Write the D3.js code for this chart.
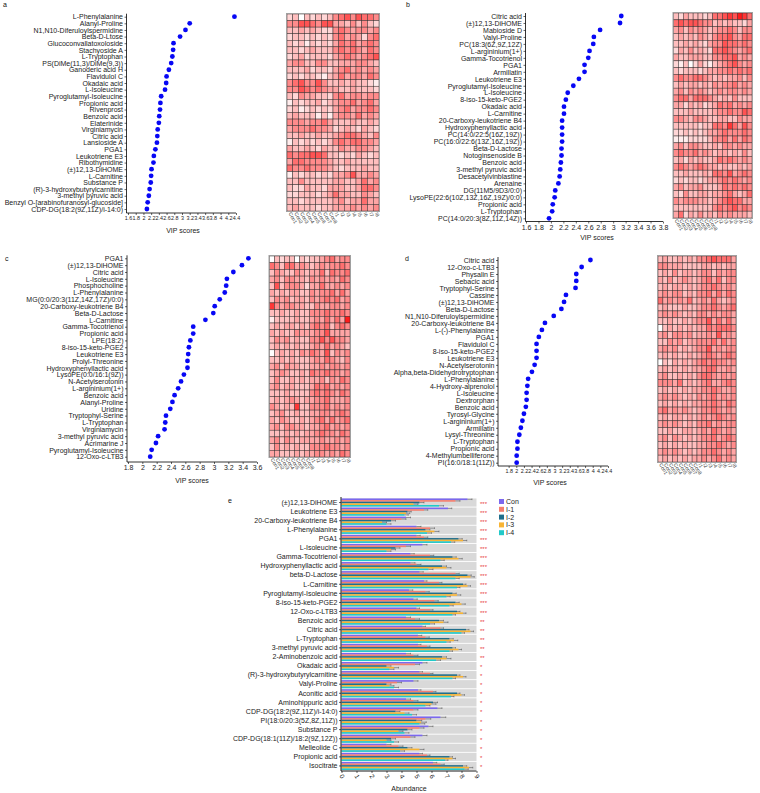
<!DOCTYPE html>
<html><head><meta charset="utf-8">
<script src="https://cdn.jsdelivr.net/npm/d3@7"></script>
<style>body{margin:0;background:#fff}svg{display:block}</style>
</head><body><svg id="chart" width="760" height="793"></svg>
<script>
// ---------- DATA ----------
const namesA = ["L-Phenylalanine","Alanyl-Proline","N1,N10-Diferuloylspermidine","Beta-D-Ltose","Glucoconvallatoxoloside","Stachyoside A","L-Tryptophan","PS(DiMe(11,3)/DiMe(9,3))","Ganoderic acid H","Flavidulol C","Okadaic acid","L-Isoleucine","Pyroglutamyl-Isoleucine","Propionic acid","Rivenprost","Benzoic acid","Elaterinide","Virginiamycin","Citric acid","Lansioside A","PGA1","Leukotriene E3","Ribothymidine","(±)12,13-DiHOME","L-Carnitine","Substance P","(R)-3-hydroxybutyrylcarnitine","3-methyl pyruvic acid","Benzyl O-[arabinofuranosyl-glucoside]","CDP-DG(18:2(9Z,11Z)/i-14:0)"];
const vipA = [4.36,3.20,3.09,2.95,2.78,2.77,2.75,2.72,2.66,2.60,2.59,2.56,2.46,2.44,2.43,2.41,2.40,2.37,2.36,2.35,2.31,2.27,2.26,2.21,2.20,2.19,2.16,2.14,2.11,2.09];
const ticksA = [1.6,1.8,2,2.2,2.4,2.6,2.8,3,3.2,3.4,3.6,3.8,4,4.2,4.4];

const namesB = ["Citric acid","(±)12,13-DiHOME","Mabioside D","Valyl-Proline","PC(18:3(6Z,9Z,12Z)","L-argininium(1+)","Gamma-Tocotrienol","PGA1","Armillatin","Leukotriene E3","Pyroglutamyl-Isoleucine","L-Isoleucine","8-iso-15-keto-PGE2","Okadaic acid","L-Carnitine","20-Carboxy-leukotriene B4","Hydroxyphenyllactic acid","PC(14:0/22:5(16Z,19Z))","PC(16:0/22:6(13Z,16Z,19Z))","Beta-D-Lactose","Notoginsenoside B","Benzoic acid","3-methyl pyruvic acid","Desacetylvinblastine","Arenaine","DG(11M5/9D3/0:0)","LysoPE(22:6(10Z,13Z,16Z,19Z)/0:0)","Propionic acid","L-Tryptophan","PC(14:0/20:3(8Z,11Z,14Z))"];
const vipB = [3.13,3.11,2.79,2.69,2.68,2.62,2.60,2.54,2.54,2.45,2.36,2.27,2.24,2.21,2.21,2.18,2.18,2.18,2.18,2.17,2.17,2.16,2.15,2.14,2.12,2.07,2.06,2.03,2.02,1.97];
const ticksB = [1.6,1.8,2,2.2,2.4,2.6,2.8,3,3.2,3.4,3.6,3.8];

const namesC = ["PGA1","(±)12,13-DiHOME","Citric acid","L-Isoleucine","Phosphocholine","L-Phenylalanine","MG(0:0/20:3(11Z,14Z,17Z)/0:0)","20-Carboxy-leukotriene B4","Beta-D-Lactose","L-Carnitine","Gamma-Tocotrienol","Propionic acid","LPE(18:2)","8-iso-15-keto-PGE2","Leukotriene E3","Prolyl-Threonine","Hydroxyphenyllactic acid","LysoPE(0:0/16:1(9Z))","N-Acetylserotonin","L-argininium(1+)","Benzoic acid","Alanyl-Proline","Uridine","Tryptophyl-Serine","L-Tryptophan","Virginiamycin","3-methyl pyruvic acid","Acrimarine J","Pyroglutamyl-Isoleucine","12-Oxo-c-LTB3"];
const vipC = [3.48,3.39,3.27,3.18,3.17,3.15,3.08,3.01,2.99,2.88,2.71,2.71,2.67,2.65,2.64,2.63,2.63,2.58,2.54,2.50,2.45,2.42,2.39,2.33,2.32,2.31,2.22,2.19,2.13,2.11];
const ticksC = [1.8,2,2.2,2.4,2.6,2.8,3,3.2,3.4,3.6];

const namesD = ["Citric acid","12-Oxo-c-LTB3","Physalin E","Sebacic acid","Tryptophyl-Serine","Cassine","(±)12,13-DiHOME","Beta-D-Lactose","N1,N10-Diferuloylspermidine","20-Carboxy-leukotriene B4","L-(-)-Phenylalanine","PGA1","Flavidulol C","8-iso-15-keto-PGE2","Leukotriene E3","N-Acetylserotonin","Alpha,beta-Didehydrotryptophan","L-Phenylalanine","4-Hydroxy-alprenolol","L-Isoleucine","Dextrorphan","Benzoic acid","Tyrosyl-Glycine","L-argininium(1+)","Armillatin","Lysyl-Threonine","L-Tryptophan","Propionic acid","4-Methylumbelliferone","PI(16:0/18:1(11Z))"];
const vipD = [3.94,3.71,3.57,3.57,3.55,3.30,3.25,3.18,2.98,2.75,2.67,2.59,2.53,2.53,2.53,2.48,2.41,2.31,2.29,2.27,2.27,2.25,2.20,2.16,2.12,2.08,2.03,2.03,2.01,2.01];
const ticksD = [1.8,2,2.2,2.4,2.6,2.8,3,3.2,3.4,3.6,3.8,4,4.2,4.4];

const heatCols = ["Con1","Con2","Con3","Con4","Con5","Con6","Con7","Con8","I1","I2","I3","I4","I5","I6","I7","I8"];
const heatA = ["2303232356757665","5577657744353532","3343432256545545","2332323256454256","3231323246564565","3323433356565465","2342333245654567","4553355334445543","3334233245645454","2323321346455465","5675575334343321","5576565443343332","3254433256455455","1323342345564564","2312323245645565","3433313145546454","5554556433343343","4555655423432432","3343343345665435","1323232356566554","4334324335445543","6566776332324323","4665555433433333","6556555432333433","1323323244574454","3353333344334645","3224332444334665","2233323464433543","3323333345344644","3433323344454545"];
const heatB = ["3243332366787986","6767765534343324","4535454345565355","3434354356675466","3343432455766565","2435343266765456","4334443355667454","2130242134567545","3233323445565656","5655665434344535","3434434354556454","4535454345455454","5664666543435333","4424342346564545","3334333345565576","5543554334433544","3333323366586475","2232323445655565","1112222355646465","4535543343554544","5655645434434353","3424343346565454","5654565443433434","3343334366574565","2323323445656545","4534453334656565","3253344344564346","5455544345676644","3333333356567565","4624353435454443"];
const heatC = ["0323303233456455","6536645434545565","3543354344636556","4535544354545465","3735554244644545","4343443354556464","3545344354565645","8545544335445545","3343343355565565","1333343345464649","3434434356563565","4343354445574444","3545343355757554","3434343345464543","0343435465473545","3343433345465435","4535443344545545","3454334365565545","3533434344535465","4534433346564545","3334333356565465","3434543445564445","5434383355564545","3453343344554565","4354334345646456","4535544344564545","3334343445655465","4535434444544545","3534343355565545","4433343445545465"];
const heatD = ["3433434355676664","5544433334434344","3435344345535455","4353454345646355","3434434345565454","4545534355646465","6454546345464345","3433343345565456","4545434355454554","3343343455746464","0343434344656665","4535545344547454","3354534455564645","4545343455745455","3434334345654565","0324343456565545","3434343445664454","4533434356654545","5554634345644565","3434343445565445","4545434354564545","3434343445565465","5645454345565454","3434434345456545","4545434355645455","3343344345465454","4535434345564565","3434343344556545","4545434345565454","3434343445456454"];

const namesE = ["(±)12,13-DiHOME","Leukotriene E3","20-Carboxy-leukotriene B4","L-Phenylalanine","PGA1","L-Isoleucine","Gamma-Tocotrienol","Hydroxyphenyllactic acid","beta-D-Lactose","L-Carnitine","Pyroglutamyl-Isoleucine","8-iso-15-keto-PGE2","12-Oxo-c-LTB3","Benzoic acid","Citric acid","L-Tryptophan","3-methyl pyruvic acid","2-Aminobenzoic acid","Okadaic acid","(R)-3-hydroxybutyrylcarnitine","Valyl-Proline","Aconitic acid","Aminohippuric acid","CDP-DG(18:2(9Z,11Z)/i-14:0)","PI(18:0/20:3(5Z,8Z,11Z))","Substance P","CDP-DG(18:1(11Z)/18:2(9Z,12Z))","Melleolide C","Propionic acid","Isocitrate"];
const groupsE = ["Con","I-1","I-2","I-3","I-4"];
const eCon = [8.4,7.1,4.3,5.0,5.0,5.4,4.6,4.6,5.2,5.5,4.5,4.8,5.0,4.3,5.4,5.1,5.1,4.3,5.4,5.2,4.8,5.1,4.3,6.4,6.6,5.8,5.4,3.0,5.2,6.1];
const eI1  = [7.6,5.5,4.0,5.9,5.5,4.3,5.9,5.0,7.6,6.5,5.6,6.2,5.9,4.9,6.6,5.6,5.7,4.8,4.9,5.9,3.7,6.1,4.8,4.8,5.6,5.2,4.6,3.8,5.7,6.6];
const eI2  = [5.2,4.4,3.3,5.6,7.8,3.6,7.4,6.7,8.4,8.1,7.4,7.6,7.7,6.5,8.3,7.2,7.4,6.7,3.0,7.7,3.0,7.7,6.1,3.6,5.0,4.4,3.3,4.4,7.2,8.1];
const eI3  = [4.8,4.3,2.7,6.2,8.1,3.3,7.8,7.0,8.6,8.4,7.7,8.0,8.1,6.8,8.6,7.5,7.8,7.0,3.5,8.1,3.2,8.0,6.0,4.2,5.3,3.8,3.0,5.2,7.4,8.5];
const eI4  = [6.5,4.2,3.0,5.7,7.3,3.0,6.6,5.8,7.6,7.7,7.0,7.2,7.4,5.9,8.0,7.0,7.2,6.3,3.2,7.4,3.5,7.3,5.6,4.7,5.2,4.2,3.5,3.9,6.9,8.2];
const eErr = [0.3,0.25,0.3,0.3,0.25,0.3,0.25,0.3,0.25,0.2,0.25,0.25,0.2,0.3,0.2,0.25,0.2,0.3,0.3,0.2,0.3,0.2,0.3,0.3,0.35,0.3,0.3,0.3,0.2,0.25];
const sigE = ["***","***","***","***","***","***","***","***","***","***","***","***","***","**","**","**","**","**","*","*","*","*","*","*","*","*","*","*","*","*"];
const ticksE = [0,1,2,3,4,5,6,7,8,9];
const colorsE = ["#7b68ee","#f47f6f","#1f6e8c","#f8b434","#22c9c9"];

// ---------- DRAW ----------
const FONT = "'Liberation Sans', Arial, sans-serif";
const svg = d3.select("#chart").style("font-family", FONT);

function letter(t, x, y) {
  svg.append("text").attr("x", x).attr("y", y).attr("font-size", 7).attr("fill", "#111").text(t);
}

function dotPanel(p) {
  const g = svg.append("g");
  const y = d3.scalePoint().domain(p.names).range([p.top, p.bottom]);
  const x = d3.scaleLinear().domain(p.xDomain).range(p.xRange);
  const ya = g.append("g").attr("transform", `translate(${p.axisX},0)`)
    .call(d3.axisLeft(y).tickSize(2).tickSizeOuter(0).tickPadding(1.5));
  ya.select(".domain").remove();
  ya.selectAll("text").attr("font-size", 7).attr("font-family", FONT).attr("fill", "#222");
  ya.selectAll("line").attr("stroke", "#000").attr("stroke-width", 0.6);
  g.append("line").attr("x1", p.axisX).attr("x2", p.axisX).attr("y1", p.top - 3).attr("y2", p.axisY)
    .attr("stroke", "#000").attr("stroke-width", 0.8);
  const xa = g.append("g").attr("transform", `translate(0,${p.axisY})`)
    .call(d3.axisBottom(x).tickValues(p.ticks).tickFormat(d => String(d)).tickSize(2).tickSizeOuter(0).tickPadding(1.5));
  xa.select(".domain").remove();
  xa.selectAll("text").attr("font-size", p.tickFont || 7).attr("font-family", FONT).attr("fill", "#222");
  xa.selectAll("line").attr("stroke", "#000").attr("stroke-width", 0.6);
  g.append("line").attr("x1", p.axisX).attr("x2", p.xRange[1]).attr("y1", p.axisY).attr("y2", p.axisY)
    .attr("stroke", "#000").attr("stroke-width", 0.8);
  g.selectAll("circle.dot").data(p.vals).join("circle").attr("class", "dot")
    .attr("cx", d => x(d)).attr("cy", (d, i) => y(p.names[i])).attr("r", 2.4).attr("fill", "#0707f5");
  g.append("text").attr("x", p.titleX).attr("y", p.titleY).attr("text-anchor", "middle")
    .attr("font-size", 7).attr("fill", "#222").text("VIP scores");
}

const heatColor = v => d3.interpolateRgb("#ffffff", "#ff1a1a")(Math.pow(v / 9, 1.15));
function heatPanel(p) {
  const g = svg.append("g");
  const x = d3.scaleBand().domain(heatCols).range([p.x0, p.x1]);
  const y = d3.scaleBand().domain(d3.range(p.rows.length)).range([p.y0, p.y1]);
  const cells = [];
  p.rows.forEach((r, i) => r.split("").forEach((c, j) => cells.push({i, j, v: +c})));
  g.selectAll("rect.cell").data(cells).join("rect").attr("class", "cell")
    .attr("x", d => x(heatCols[d.j])).attr("y", d => y(d.i))
    .attr("width", x.bandwidth()).attr("height", y.bandwidth())
    .attr("fill", d => heatColor(d.v)).attr("stroke", "#3b3030").attr("stroke-width", 0.5);
  g.append("rect").attr("x", p.x0 - 0.5).attr("y", p.y0 - 0.5).attr("width", p.x1 - p.x0 + 1).attr("height", p.y1 - p.y0 + 1)
    .attr("fill", "none").attr("stroke", "#a0a0a0").attr("stroke-width", 1);
  g.selectAll("text.col").data(heatCols).join("text").attr("class", "col")
    .attr("transform", d => `translate(${x(d) + x.bandwidth() / 2 - 1.5},${p.y1 + 2.5}) rotate(60)`)
    .attr("font-size", 5).attr("fill", "#333").text(d => d);
}

// Panel a
letter("a", 3, 7);
dotPanel({names: namesA, vals: vipA, axisX: 126.5, top: 16.7, bottom: 209, axisY: 213,
  xDomain: [1.6, 4.4], xRange: [128, 236], ticks: ticksA, tickFont: 5.4, titleX: 183, titleY: 233});
heatPanel({rows: heatA, x0: 287, x1: 379, y0: 14, y1: 211});

// Panel b
letter("b", 406, 7);
dotPanel({names: namesB, vals: vipB, axisX: 525.5, top: 16, bottom: 218.3, axisY: 221.5,
  xDomain: [1.6, 3.8], xRange: [526, 663], ticks: ticksB, titleX: 597, titleY: 240});
heatPanel({rows: heatB, x0: 673.5, x1: 752, y0: 13, y1: 218});

// Panel c
letter("c", 5, 260.5);
dotPanel({names: namesC, vals: vipC, axisX: 127, top: 258.3, bottom: 456.7, axisY: 462,
  xDomain: [1.8, 3.6], xRange: [128, 257], ticks: ticksC, titleX: 192, titleY: 482.5});
heatPanel({rows: heatC, x0: 269.5, x1: 350, y0: 256, y1: 457});

// Panel d
letter("d", 405, 260.5);
dotPanel({names: namesD, vals: vipD, axisX: 498, top: 260, bottom: 462.7, axisY: 466,
  xDomain: [1.6, 4.4], xRange: [501, 608], ticks: ticksD, tickFont: 5.4, titleX: 550, titleY: 485});
heatPanel({rows: heatD, x0: 658, x1: 736, y0: 256, y1: 462});

// Panel e
letter("e", 228, 503);
(function () {
  const g = svg.append("g");
  const series = [eCon, eI1, eI2, eI3, eI4];
  const y = d3.scaleBand().domain(namesE).range([498, 770.5]).paddingInner(0.1).paddingOuter(0.05);
  const x = d3.scaleLinear().domain([0, 9]).range([341.5, 476.5]);
  const sub = d3.scaleBand().domain(groupsE).range([0, y.bandwidth()]);
  g.selectAll("rect.band").data(namesE).join("rect").attr("class", "band")
    .attr("x", x(0)).attr("y", d => y(d)).attr("width", x(9) - x(0)).attr("height", y.bandwidth())
    .attr("fill", "#d9d9d9");
  series.forEach((vals, k) => {
    g.selectAll(`rect.s${k}`).data(vals).join("rect").attr("class", `s${k}`)
      .attr("x", x(0)).attr("y", (d, i) => y(namesE[i]) + sub(groupsE[k]))
      .attr("width", d => x(d) - x(0)).attr("height", sub.bandwidth())
      .attr("fill", colorsE[k]);
    g.selectAll(`line.e${k}`).data(vals).join("line").attr("class", `e${k}`)
      .attr("x1", d => x(d)).attr("x2", (d, i) => x(d + eErr[i]))
      .attr("y1", (d, i) => y(namesE[i]) + sub(groupsE[k]) + sub.bandwidth() / 2)
      .attr("y2", (d, i) => y(namesE[i]) + sub(groupsE[k]) + sub.bandwidth() / 2)
      .attr("stroke", "#444").attr("stroke-width", 0.5);
    g.selectAll(`line.c${k}`).data(vals).join("line").attr("class", `c${k}`)
      .attr("x1", (d, i) => x(d + eErr[i])).attr("x2", (d, i) => x(d + eErr[i]))
      .attr("y1", (d, i) => y(namesE[i]) + sub(groupsE[k]))
      .attr("y2", (d, i) => y(namesE[i]) + sub(groupsE[k]) + sub.bandwidth())
      .attr("stroke", "#444").attr("stroke-width", 0.5);
  });
  const ya = g.append("g").attr("transform", `translate(${x(0) - 0.5},0)`)
    .call(d3.axisLeft(y).tickSize(2).tickSizeOuter(0).tickPadding(1.5));
  ya.select(".domain").remove();
  ya.selectAll("text").attr("font-size", 7).attr("font-family", FONT).attr("fill", "#222");
  ya.selectAll("line").attr("stroke", "#000").attr("stroke-width", 0.6);
  g.append("line").attr("x1", x(0) - 0.5).attr("x2", x(0) - 0.5).attr("y1", 497).attr("y2", 771)
    .attr("stroke", "#000").attr("stroke-width", 0.9);
  const xa = g.append("g").attr("transform", `translate(0,771)`)
    .call(d3.axisBottom(x).tickValues(ticksE).tickSize(2).tickSizeOuter(0));
  xa.select(".domain").remove();
  xa.selectAll("line").attr("stroke", "#000").attr("stroke-width", 0.6);
  xa.selectAll("text").attr("font-size", 6.5).attr("font-family", FONT).attr("fill", "#222")
    .attr("text-anchor", "start").attr("transform", "translate(-1,4) rotate(60)").attr("y", 0).attr("dy", "0.3em");
  g.append("line").attr("x1", x(0) - 0.5).attr("x2", x(9)).attr("y1", 771).attr("y2", 771)
    .attr("stroke", "#000").attr("stroke-width", 0.9);
  g.append("text").attr("x", 409).attr("y", 791).attr("text-anchor", "middle").attr("font-size", 7)
    .attr("fill", "#222").text("Abundance");
  g.selectAll("text.sig").data(sigE).join("text").attr("class", "sig")
    .attr("x", 480).attr("y", (d, i) => y(namesE[i]) + y.bandwidth() / 2 + 3)
    .attr("font-size", 6).attr("fill", "#e83a3a").text(d => d);
  const lg = g.append("g");
  groupsE.forEach((gname, k) => {
    lg.append("rect").attr("x", 499).attr("y", 499 + k * 7.8).attr("width", 5).attr("height", 5).attr("fill", colorsE[k]);
    lg.append("text").attr("x", 506).attr("y", 504 + k * 7.8).attr("font-size", 7).attr("fill", "#222").text(gname);
  });
})();
</script>
</body></html>
